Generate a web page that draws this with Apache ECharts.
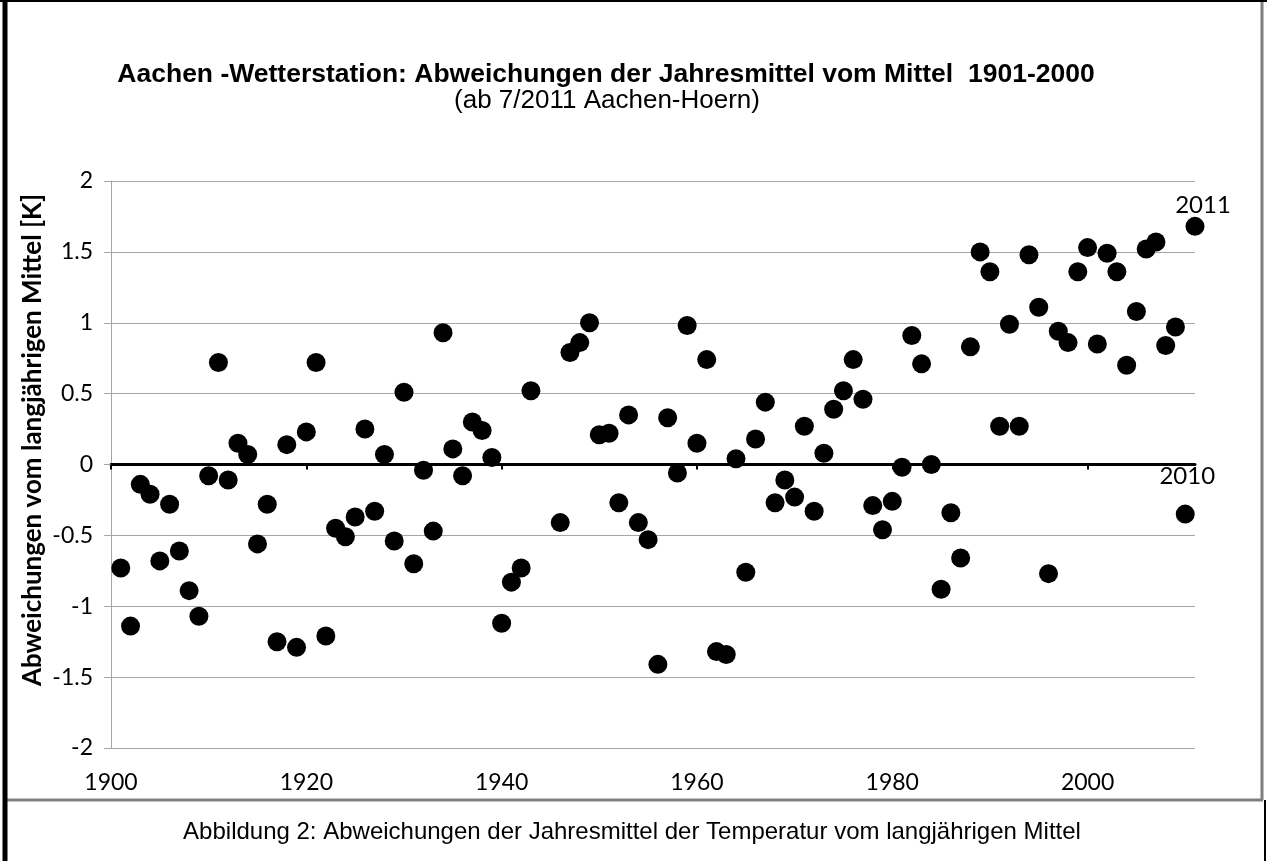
<!DOCTYPE html>
<html><head><meta charset="utf-8">
<script src="https://cdn.jsdelivr.net/npm/echarts@6/dist/echarts.min.js"></script>
<style>html,body{margin:0;padding:0;background:#fff}#c{width:1267px;height:861px}</style>
</head><body><div id="c"></div>
<script>
const titleText = 'Aachen -Wetterstation: Abweichungen der Jahresmittel vom Mittel  1901-2000';
const subtitleText = '(ab 7/2011 Aachen-Hoern)';
const yAxisName = 'Abweichungen vom langjährigen Mittel [K]';
const captionText = 'Abbildung 2: Abweichungen der Jahresmittel der Temperatur vom langjährigen Mittel';

const xTicks = [1900, 1920, 1940, 1960, 1980, 2000];
const labeledYears = [2010, 2011];

const years = [
  1901,1902,1903,1904,1905,1906,1907,1908,1909,1910,
  1911,1912,1913,1914,1915,1916,1917,1918,1919,1920,
  1921,1922,1923,1924,1925,1926,1927,1928,1929,1930,
  1931,1932,1933,1934,1935,1936,1937,1938,1939,1940,
  1941,1942,1943,1946,1947,1948,1949,1950,
  1951,1952,1953,1954,1955,1956,1957,1958,1959,1960,
  1961,1962,1963,1964,1965,1966,1967,1968,1969,1970,
  1971,1972,1973,1974,1975,1976,1977,1978,1979,1980,
  1981,1982,1983,1984,1985,1986,1987,1988,1989,1990,
  1991,1992,1993,1994,1995,1996,1997,1998,1999,2000,
  2001,2002,2003,2004,2005,2006,2007,2008,2009,2010,
  2011
];
const anomalies = [
  -0.73,-1.14,-0.14,-0.21,-0.68,-0.28,-0.61,-0.89,-1.07,-0.08,
   0.72,-0.11, 0.15, 0.07,-0.56,-0.28,-1.25, 0.14,-1.29, 0.23,
   0.72,-1.21,-0.45,-0.51,-0.37, 0.25,-0.33, 0.07,-0.54, 0.51,
  -0.70,-0.04,-0.47, 0.93, 0.11,-0.08, 0.30, 0.24, 0.05,-1.12,
  -0.83,-0.73, 0.52,-0.41, 0.79, 0.86, 1.00, 0.21,
   0.22,-0.27, 0.35,-0.41,-0.53,-1.41, 0.33,-0.06, 0.98, 0.15,
   0.74,-1.32,-1.34, 0.04,-0.76, 0.18, 0.44,-0.27,-0.11,-0.23,
   0.27,-0.33, 0.08, 0.39, 0.52, 0.74, 0.46,-0.29,-0.46,-0.26,
  -0.02, 0.91, 0.71, 0.00,-0.88,-0.34,-0.66, 0.83, 1.50, 1.36,
   0.27, 0.99, 0.27, 1.48, 1.11,-0.77, 0.94, 0.86, 1.36, 1.53,
   0.85, 1.49, 1.36, 0.70, 1.08, 1.52, 1.57, 0.84, 0.97,-0.35,
   1.68
];

const points = years.map((y, i) => {
  const item = { value: [y, anomalies[i]] };
  if (labeledYears.includes(y)) {
    item.label = {
      show: true, position: 'top', formatter: String(y),
      distance: y === 2010 ? 16 : 0,
      offset: y === 2011 ? [8, 0] : [2, 0]
    };
  }
  return item;
});

const chart = echarts.init(document.getElementById('c'), null, { renderer: 'canvas' });
const gridCol = '#a6a6a6';
chart.setOption({
  animation: false,
  backgroundColor: '#fff',
  grid: { left: 111, right: 72, top: 181, bottom: 113, containLabel: false, outerBoundsMode: 'none' },
  xAxis: {
    type: 'value', min: 1900, max: 2011, interval: 20,
    splitLine: { show: false },
    axisLine: { show: true, onZero: true, lineStyle: { color: '#000', width: 3 } },
    axisTick: { show: true, length: 5, customValues: xTicks, lineStyle: { color: '#000', width: 2 } },
    axisLabel: { customValues: xTicks, margin: 23, fontFamily: 'Lato', fontSize: 23, color: '#000',
      formatter: v => String(v) }
  },
  yAxis: {
    type: 'value', min: -2, max: 2, interval: 0.5,
    axisLine: { show: true, onZero: false, lineStyle: { color: gridCol, width: 1 } },
    axisTick: { show: true, length: 7, lineStyle: { color: gridCol } },
    splitLine: { show: true, lineStyle: { color: gridCol, width: 1 } },
    axisLabel: { margin: 18, fontFamily: 'Lato', fontSize: 23, color: '#000' }
  },
  series: [{
    type: 'scatter',
    symbol: 'circle', symbolSize: 19,
    itemStyle: { color: '#000', opacity: 1 },
    label: { fontFamily: 'Lato', fontSize: 24, color: '#000', opacity: 1 },
    data: points
  }],
  graphic: [
    { type: 'text', style: { x: 606, y: 75, text: titleText, fontFamily: 'Liberation Sans', fontWeight: 'bold', fontSize: 26.5, fill: '#000', align: 'center', verticalAlign: 'middle' } },
    { type: 'text', style: { x: 607, y: 101, text: subtitleText, fontFamily: 'Liberation Sans', fontSize: 26, fill: '#000', align: 'center', verticalAlign: 'middle' } },
    { type: 'text', x: 33, y: 440, rotation: Math.PI / 2, style: { x: 0, y: 0, text: yAxisName, fontFamily: 'Lato', fontWeight: 'bold', fontSize: 26, fill: '#000', align: 'center', verticalAlign: 'middle' } },
    { type: 'text', style: { x: 632, y: 832, text: captionText, fontFamily: 'Liberation Sans', fontSize: 24, fill: '#000', align: 'center', verticalAlign: 'middle' } },
    // chart frame (gray) right & bottom
    { type: 'line', shape: { x1: 1262, y1: 2, x2: 1262, y2: 800 }, style: { stroke: '#7f7f7f', lineWidth: 3 } },
    { type: 'line', shape: { x1: 6, y1: 800, x2: 1263, y2: 800 }, style: { stroke: '#7f7f7f', lineWidth: 3 } },
    // outer black border
    { type: 'line', shape: { x1: 0, y1: 1, x2: 1267, y2: 1 }, style: { stroke: '#000', lineWidth: 2 } },
    { type: 'line', shape: { x1: 5, y1: 0, x2: 5, y2: 861 }, style: { stroke: '#000', lineWidth: 5 } },
    { type: 'line', shape: { x1: 1265, y1: 800, x2: 1265, y2: 861 }, style: { stroke: '#000', lineWidth: 2 } }
  ]
});
</script>
</body></html>
